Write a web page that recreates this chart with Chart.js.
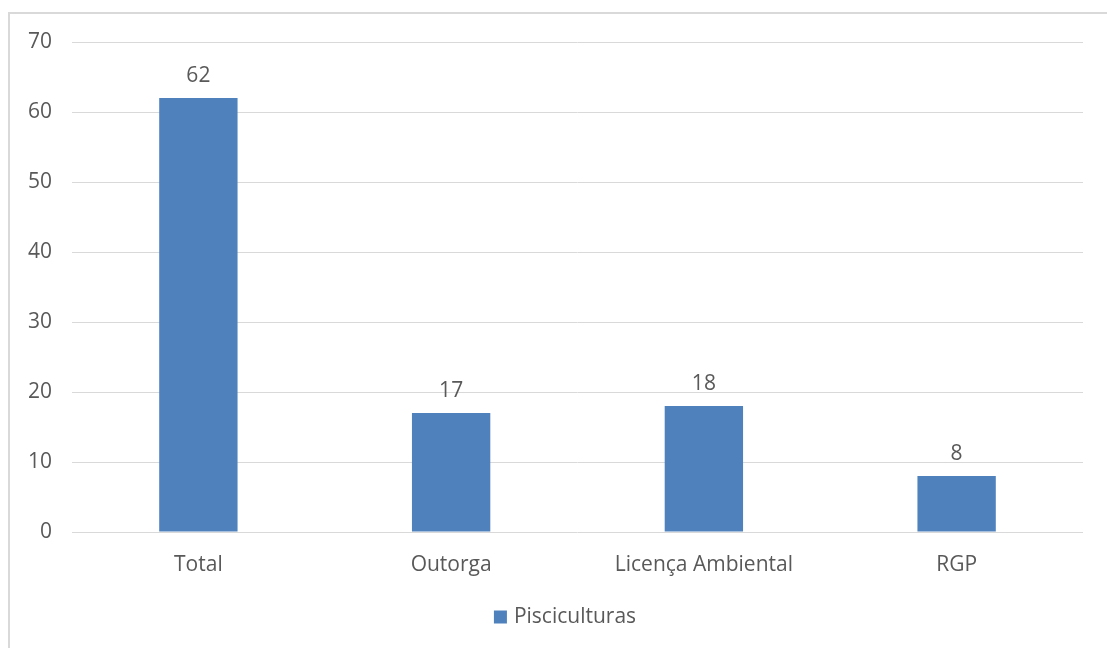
<!DOCTYPE html>
<html>
<head>
<meta charset="utf-8">
<script src="https://cdn.jsdelivr.net/npm/chart.js@4/dist/chart.umd.min.js"></script>
<style>
    html, body { margin: 0; padding: 0; background: #fff; overflow: hidden; }
    #frame {
        position: absolute; left: 8px; top: 12px;
        width: 1200px; height: 700px;
        border: 2px solid #d9d9d9; box-sizing: border-box;
    }
    #wrap { position: absolute; left: 0; top: 0; width: 1107px; height: 648px; }
</style>
</head>
<body>
<div id="frame"></div>
<div id="wrap"><canvas id="chart"></canvas></div>
<script>
// Chart data
const categories = ['Total', 'Outorga', 'Licença Ambiental', 'RGP'];
const seriesName = 'Pisciculturas';
const seriesValues = [62, 17, 18, 8];
const yTicks = [0, 10, 20, 30, 40, 50, 60, 70];

const TEXT = '#595959';
const BAR = '#4f81bd';
const FONT = "'Open Sans', sans-serif";
const FONT_SIZE = 21;

// Draw the value above each bar
const valueLabels = {
    id: 'valueLabels',
    afterDatasetsDraw: (chart) => {
        const ctx = chart.ctx;
        ctx.save();
        ctx.font = FONT_SIZE + 'px ' + FONT;
        ctx.fillStyle = TEXT;
        ctx.textAlign = 'center';
        ctx.textBaseline = 'middle';
        chart.getDatasetMeta(0).data.forEach((bar, i) => {
            ctx.fillText(String(seriesValues[i]), bar.x, bar.y - 22);
        });
        ctx.restore();
    },
};

// Legend drawn by hand so it sits where the original one does
const bottomLegend = {
    id: 'bottomLegend',
    afterDraw: (chart) => {
        const ctx = chart.ctx;
        const ds = chart.data.datasets[0];
        ctx.save();
        ctx.font = FONT_SIZE + 'px ' + FONT;
        const box = 13, gap = 7;
        const total = box + gap + ctx.measureText(ds.label).width;
        const x0 = 565 - total / 2;
        const cy = chart.chartArea.bottom + 85;
        ctx.fillStyle = ds.backgroundColor;
        ctx.fillRect(x0, cy - box / 2, box, box);
        ctx.fillStyle = TEXT;
        ctx.textBaseline = 'middle';
        ctx.fillText(ds.label, x0 + box + gap, cy);
        ctx.restore();
    },
};

new Chart(document.getElementById('chart'), {
    type: 'bar',
    data: {
        labels: categories,
        datasets: [
            {
                label: seriesName,
                data: seriesValues,
                backgroundColor: BAR,
                borderWidth: 0,
                barPercentage: 0.31,
                categoryPercentage: 1,
            },
        ],
    },
    plugins: [valueLabels, bottomLegend],
    options: {
        responsive: true,
        maintainAspectRatio: false,
        animation: false,
        layout: { padding: { top: 42, right: 24, bottom: 54, left: 0 } },
        scales: {
            x: {
                grid: { display: false },
                border: { display: false },
                ticks: { color: TEXT, font: { family: FONT, size: FONT_SIZE }, padding: 12 },
                afterFit: (scale) => { scale.height = 62; },
            },
            y: {
                min: 0,
                max: 70,
                afterBuildTicks: (scale) => { scale.ticks = yTicks.map((v) => ({ value: v })); },
                grid: { color: '#d9d9d9', lineWidth: 1, drawTicks: false },
                border: { display: false },
                ticks: { color: TEXT, font: { family: FONT, size: FONT_SIZE }, padding: 20 },
                afterFit: (scale) => { scale.width = 72; },
            },
        },
        plugins: {
            tooltip: { enabled: false },
            legend: { display: false },
        },
    },
});
</script>
</body>
</html>
